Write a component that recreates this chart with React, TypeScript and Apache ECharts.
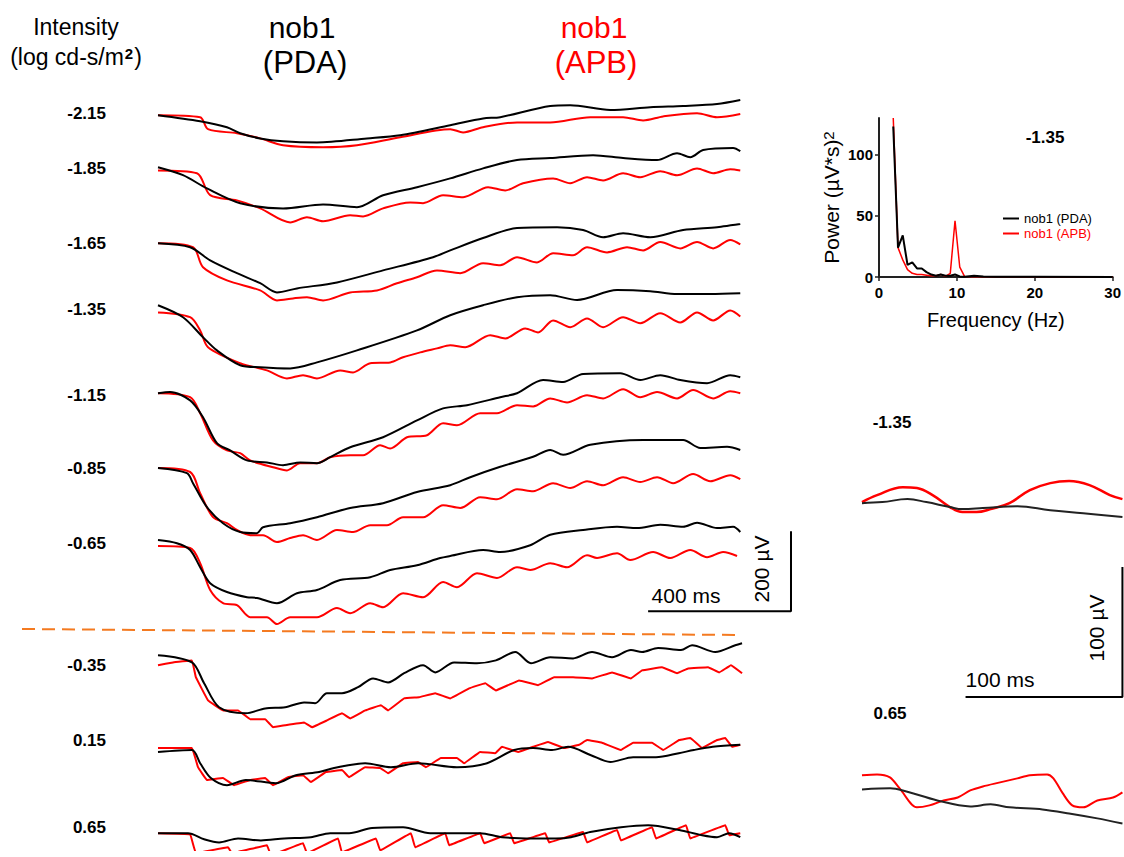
import React, { useEffect, useRef } from "react";
import * as echarts from "echarts";

// ---------- data ----------
const intensities = ["-2.15", "-1.85", "-1.65", "-1.35", "-1.15", "-0.85", "-0.65", "-0.35", "0.15", "0.65"];

// [time ms, amplitude µV relative to the row baseline]
const pdaTraces: number[][][] = [
  [[0,0],[118,-15],[193,-30],[230,-45],[286,-58],[350,-65],[445,-68],[585,-58],[678,-50],[818,-25],[910,-8],[958,-5],[1098,23],[1154,25],[1266,13],[1378,20],[1470,23],[1565,28],[1630,38]],
  [[0,0],[70,-20],[137,-53],[230,-90],[350,-103],[462,-93],[557,-100],[630,-70],[725,-50],[818,-28],[910,-3],[1005,18],[1098,23],[1218,30],[1302,23],[1397,18],[1453,35],[1490,25],[1526,43],[1610,48],[1630,40]],
  [[0,0],[90,-10],[146,-43],[221,-75],[286,-100],[333,-123],[389,-113],[501,-98],[630,-68],[770,-35],[818,-18],[910,13],[1005,38],[1117,40],[1190,33],[1246,15],[1302,25],[1378,15],[1470,33],[1565,40],[1630,48]],
  [[0,0],[70,-30],[126,-80],[165,-113],[230,-150],[286,-155],[370,-158],[445,-143],[557,-113],[725,-63],[818,-25],[910,0],[1005,20],[1098,25],[1173,13],[1285,38],[1378,35],[1453,28],[1546,28],[1630,30]],
  [[0,0],[34,3],[90,-18],[126,-60],[165,-125],[202,-143],[249,-168],[305,-173],[350,-180],[398,-173],[445,-175],[482,-160],[538,-135],[630,-110],[725,-68],[798,-38],[865,-30],[958,-10],[1005,0],[1078,33],[1134,28],[1190,48],[1294,50],[1350,33],[1406,45],[1462,33],[1537,25],[1602,45],[1630,40]],
  [[0,0],[81,-13],[98,-38],[137,-98],[182,-138],[230,-160],[277,-163],[294,-148],[370,-138],[445,-123],[538,-100],[630,-88],[725,-60],[818,-43],[874,-23],[958,3],[1050,28],[1098,45],[1134,33],[1210,58],[1358,70],[1470,70],[1518,50],[1593,53],[1630,45]],
  [[0,0],[53,-8],[90,-25],[118,-68],[146,-108],[193,-130],[249,-143],[277,-145],[333,-158],[389,-133],[445,-125],[510,-100],[594,-93],[650,-75],[725,-63],[790,-45],[818,-40],[910,-25],[958,-30],[1042,-13],[1098,13],[1190,25],[1285,33],[1341,30],[1406,38],[1470,33],[1509,43],[1565,30],[1610,33],[1630,20]],
  [[0,0],[95,-18],[129,-70],[171,-130],[246,-145],[300,-133],[356,-130],[409,-118],[440,-120],[473,-95],[515,-95],[560,-80],[602,-58],[644,-68],[689,-45],[742,-25],[776,-43],[829,-18],[893,-20],[946,-13],[1000,8],[1044,-20],[1098,-5],[1162,-8],[1215,8],[1271,-5],[1324,13],[1355,8],[1400,18],[1464,13],[1495,25],[1560,8],[1616,25],[1635,30]],
  [[0,-5],[95,0],[118,-33],[148,-70],[193,-88],[246,-75],[330,-83],[386,-63],[451,-55],[493,-45],[580,-33],[652,-43],[728,-33],[837,-43],[921,-33],[997,0],[1050,5],[1103,0],[1148,8],[1212,-13],[1266,-30],[1330,-18],[1394,-18],[1458,-8],[1500,0],[1553,8],[1630,13]],
  [[0,0],[84,0],[129,-15],[171,-23],[224,-13],[288,-18],[353,-13],[428,-10],[482,0],[535,0],[599,13],[686,15],[762,0],[837,0],[902,0],[963,-10],[1050,-13],[1114,-13],[1156,-10],[1210,3],[1296,15],[1372,20],[1459,8],[1523,-5],[1565,-10],[1599,0],[1630,-10]],
];

const apbTraces: number[][][] = [
  [[0,0],[118,-5],[140,-35],[221,-45],[286,-58],[350,-75],[462,-80],[557,-75],[678,-55],[818,-35],[854,-43],[910,-30],[1005,-18],[1098,-18],[1210,-5],[1302,-5],[1358,-13],[1414,-3],[1509,5],[1565,-5],[1630,3]],
  [[0,-8],[109,-15],[146,-70],[221,-83],[286,-103],[370,-138],[417,-125],[462,-135],[538,-120],[574,-123],[630,-103],[706,-88],[742,-90],[798,-70],[854,-75],[924,-50],[972,-58],[1022,-40],[1106,-28],[1154,-40],[1201,-25],[1246,-33],[1302,-15],[1350,-25],[1406,-10],[1453,-20],[1509,-3],[1554,-15],[1602,-5],[1630,-8]],
  [[0,0],[98,-10],[126,-60],[193,-93],[286,-118],[333,-143],[378,-138],[417,-135],[462,-143],[538,-123],[613,-118],[669,-100],[725,-85],[781,-68],[846,-75],[910,-50],[958,-55],[1005,-35],[1061,-48],[1106,-25],[1162,-30],[1201,-10],[1257,-23],[1313,-10],[1358,-18],[1406,3],[1462,-13],[1509,3],[1554,-13],[1602,8],[1630,-3]],
  [[0,-18],[90,-30],[118,-63],[140,-105],[230,-145],[305,-163],[361,-183],[406,-175],[445,-183],[510,-163],[546,-168],[594,-145],[650,-143],[686,-130],[734,-118],[781,-108],[818,-100],[860,-105],[930,-75],[972,-83],[1028,-58],[1064,-68],[1106,-38],[1154,-55],[1201,-33],[1246,-55],[1302,-30],[1350,-45],[1406,-20],[1462,-43],[1509,-18],[1554,-38],[1602,-13],[1630,-28]],
  [[0,0],[90,-10],[118,-50],[154,-118],[193,-143],[230,-150],[258,-168],[322,-185],[361,-193],[398,-175],[445,-175],[482,-160],[538,-155],[574,-155],[622,-130],[650,-138],[697,-110],[753,-105],[798,-75],[837,-80],[902,-50],[949,-50],[1005,-30],[1050,-33],[1098,-13],[1145,-23],[1201,-5],[1246,-13],[1302,10],[1350,-10],[1397,3],[1453,-13],[1498,8],[1554,-13],[1602,5],[1630,0]],
  [[0,0],[90,-10],[118,-63],[154,-123],[193,-138],[221,-155],[258,-168],[294,-168],[333,-185],[370,-175],[406,-168],[445,-180],[501,-155],[546,-160],[594,-143],[641,-143],[686,-123],[742,-123],[798,-93],[846,-100],[902,-73],[949,-78],[1005,-53],[1050,-58],[1106,-38],[1154,-50],[1201,-33],[1246,-43],[1302,-23],[1350,-35],[1397,-23],[1442,-38],[1498,-15],[1546,-33],[1602,-18],[1630,-28]],
  [[0,-15],[90,-20],[118,-58],[146,-125],[182,-158],[221,-163],[258,-193],[305,-193],[333,-210],[370,-193],[406,-193],[445,-193],[501,-170],[538,-183],[594,-158],[630,-168],[686,-133],[742,-143],[798,-105],[837,-118],[893,-83],[949,-95],[1005,-68],[1042,-75],[1098,-58],[1145,-68],[1201,-38],[1229,-45],[1285,-33],[1322,-50],[1386,-30],[1434,-45],[1490,-25],[1537,-43],[1582,-30],[1621,-40]],
  [[0,-25],[42,-18],[95,-13],[106,-55],[140,-113],[182,-138],[224,-138],[258,-160],[300,-160],[322,-180],[356,-175],[409,-168],[431,-180],[473,-163],[515,-145],[538,-158],[580,-138],[624,-125],[644,-138],[689,-108],[731,-105],[776,-95],[818,-108],[871,-83],[916,-70],[946,-88],[1011,-63],[1064,-75],[1109,-55],[1162,-55],[1215,-58],[1271,-43],[1324,-58],[1355,-38],[1411,-30],[1453,-45],[1484,-33],[1540,-30],[1571,-43],[1604,-25],[1635,-45]],
  [[0,5],[95,5],[112,-43],[137,-75],[182,-70],[213,-88],[258,-75],[300,-70],[322,-88],[364,-68],[406,-63],[428,-80],[470,-55],[515,-50],[535,-68],[580,-43],[622,-45],[644,-58],[686,-33],[728,-30],[750,-43],[792,-20],[837,-20],[857,-33],[902,-5],[944,-8],[963,8],[1008,-5],[1050,8],[1092,20],[1137,5],[1179,13],[1201,25],[1243,18],[1296,0],[1330,18],[1383,18],[1414,0],[1459,25],[1490,30],[1523,5],[1565,25],[1588,30],[1607,8],[1630,13]],
  [[0,0],[90,-3],[106,-50],[196,-35],[207,-50],[305,-30],[316,-55],[406,-25],[417,-50],[504,-13],[515,-48],[610,-13],[622,-43],[708,0],[720,-35],[804,0],[815,-30],[902,0],[913,-25],[986,0],[997,-25],[1084,0],[1095,-23],[1190,3],[1201,-23],[1285,8],[1296,-18],[1383,15],[1394,-13],[1478,20],[1490,-13],[1588,20],[1599,-5],[1630,0]],
];

// power spectrum at -1.35: [frequency Hz, power (µV*s)^2]
const spectrumPDA = [[1.83,123],[2.44,24],[3.05,34],[3.66,10],[4.27,12],[4.88,7],[5.49,7],[6.1,4],[6.71,2],[7.32,1],[7.93,2],[8.54,1],[9.15,1],[9.76,2],[10.37,0.5],[10.98,0.3],[12.2,1],[13.4,0.5],[15,0.3],[20,0.2],[30,0.1]];
const spectrumAPB = [[1.83,130],[2.44,24],[3.05,14],[3.66,6],[4.27,3],[4.88,2],[5.49,2],[6.1,1.5],[6.71,1],[7.32,1],[7.93,2],[8.54,0.5],[9.15,3],[9.76,46],[10.37,8],[10.98,0.5],[12.2,0.2],[30,0]];

// expanded traces [ms, µV]
const zoomPDA_m135 = [[0,-0.8],[13,0],[29,2.3],[41,0],[56,-3.8],[64,-5.4],[77,-4.6],[99,-3.1],[120,-6.2],[141,-8.5],[166,-11.5]];
const zoomAPB_m135 = [[0,0],[9.6,5.4],[26,11.5],[35,10.8],[45,5.4],[56,-3.8],[64,-7.7],[73,-7.7],[82,-5.4],[94,-0.8],[107,9.2],[120,14.6],[132,16.2],[145,13.1],[158,5.4],[166,2.3]];
const zoomPDA_065 = [[0,0],[18,0.8],[26,-0.8],[48,-8.5],[69,-13.1],[82,-11.5],[94,-13.8],[115,-15.4],[132,-18.5],[150,-22.3],[166,-26.2]];
const zoomAPB_065 = [[0,10.8],[9.6,11.5],[17.8,9.2],[24,0.8],[35,-13.8],[43,-12.3],[52,-8.5],[61,-6.2],[69,-0.8],[77,2.3],[88,5.4],[99,8.5],[107,10.8],[118,11.5],[122,8.5],[128,-3.1],[134,-12.3],[141,-13.8],[150,-8.5],[160,-6.2],[166,-2.3]];

// ---------- layout ----------
const rowBaselineUV = [-63, -193, -383, -538, -758, -945, -1125, -1413, -1650, -1858];
const rowLabelY = [113, 168, 243, 309, 395, 468, 543, 665, 740, 827];
const FONT = "'Liberation Sans', Arial, Helvetica, sans-serif";
const RED = "#ff0000";
const BLACK = "#000000";

function buildOption(): any {
  const series: any[] = [];
  intensities.forEach((lab, i) => {
    const off = rowBaselineUV[i];
    series.push({
      type: "line", name: "APB " + lab, xAxisIndex: 0, yAxisIndex: 0,
      data: apbTraces[i].map(([t, v]) => [t, v + off]),
      symbol: "none", smooth: i < 7 ? 0.3 : 0.05, silent: true, z: 2,
      lineStyle: { color: RED, width: 2 },
    });
    series.push({
      type: "line", name: "PDA " + lab, xAxisIndex: 0, yAxisIndex: 0,
      data: pdaTraces[i].map(([t, v]) => [t, v + off]),
      symbol: "none", smooth: 0.3, silent: true, z: 3,
      lineStyle: { color: BLACK, width: 2 },
    });
  });
  // main scale bar: 400 ms x 200 µV
  series.push({
    type: "line", name: "scale", xAxisIndex: 0, yAxisIndex: 0, symbol: "none", silent: true,
    data: [[1372, -1303], [1772, -1303], [1772, -1103]],
    lineStyle: { color: BLACK, width: 2 },
  });
  // power spectrum
  series.push({
    type: "line", name: "nob1 (PDA)", xAxisIndex: 1, yAxisIndex: 1, symbol: "none", silent: true, z: 3,
    data: spectrumPDA, lineStyle: { color: BLACK, width: 2 }, itemStyle: { color: BLACK },
  });
  series.push({
    type: "line", name: "nob1 (APB)", xAxisIndex: 1, yAxisIndex: 1, symbol: "none", silent: true, z: 2,
    data: spectrumAPB, lineStyle: { color: RED, width: 1.5 }, itemStyle: { color: RED },
  });
  // expanded -1.35
  series.push({ type: "line", name: "zAPB135", xAxisIndex: 2, yAxisIndex: 2, symbol: "none", smooth: 0.4, silent: true, data: zoomAPB_m135, lineStyle: { color: RED, width: 2.5 } });
  series.push({ type: "line", name: "zPDA135", xAxisIndex: 2, yAxisIndex: 2, symbol: "none", smooth: 0.4, silent: true, data: zoomPDA_m135, lineStyle: { color: "#222", width: 2 } });
  series.push({
    type: "line", name: "scale2", xAxisIndex: 2, yAxisIndex: 2, symbol: "none", silent: true,
    data: [[66, -150], [166, -150], [166, -50]], lineStyle: { color: BLACK, width: 2 },
  });
  // expanded 0.65
  series.push({ type: "line", name: "zAPB065", xAxisIndex: 3, yAxisIndex: 3, symbol: "none", smooth: 0.3, silent: true, data: zoomAPB_065, lineStyle: { color: RED, width: 2 } });
  series.push({ type: "line", name: "zPDA065", xAxisIndex: 3, yAxisIndex: 3, symbol: "none", smooth: 0.3, silent: true, data: zoomPDA_065, lineStyle: { color: "#222", width: 2 } });

  const hiddenX = (min: number, max: number, gi: number) => ({ type: "value", gridIndex: gi, min, max, show: false });
  const txt = (text: string, x: number, y: number, size: number, opts: any = {}) => ({
    type: "text", x, y, rotation: opts.rotation || 0, silent: true,
    style: {
      text, fill: opts.color || BLACK, fontSize: size, fontWeight: opts.bold ? "bold" : "normal", fontFamily: FONT,
      align: opts.align || "center", verticalAlign: "middle", textAlign: opts.align || "center", textVerticalAlign: "middle",
      rich: opts.rich,
    },
  });

  const graphics: any[] = [
    txt("Intensity", 76, 27, 23),
    txt("{a|(log cd-s/m}{s|2}{a|)}", 76, 57, 23, {
      rich: {
        a: { fontSize: 23, fontFamily: FONT, fill: BLACK, color: BLACK },
        s: { fontSize: 15, fontWeight: "bold", fontFamily: FONT, fill: BLACK, color: BLACK, verticalAlign: "top", padding: [0, 1, 0, 1] },
      },
    }),
    txt("nob1", 302, 27, 30),
    txt("(PDA)", 305, 62, 31),
    txt("nob1", 594, 27, 30, { color: RED }),
    txt("(APB)", 596, 62, 31, { color: RED }),
    txt("400 ms", 686, 595, 21),
    txt("200 µV", 761, 569, 21, { rotation: Math.PI / 2 }),
    txt("-1.35", 1045, 137, 17, { bold: true }),
    txt("-1.35", 892, 422, 17, { bold: true }),
    txt("100 ms", 1000, 679, 21),
    txt("100 µV", 1096, 628, 21, { rotation: Math.PI / 2 }),
    txt("0.65", 890, 713, 17, { bold: true }),
    {
      type: "line", silent: true,
      shape: { x1: 22, y1: 629, x2: 738, y2: 635 },
      style: { stroke: "#f47a20", lineWidth: 2, lineDash: [13, 7] },
    },
  ];
  intensities.forEach((lab, i) => graphics.push(txt(lab, 106, rowLabelY[i], 17, { bold: true, align: "right" })));

  return {
    animation: false,
    backgroundColor: "#ffffff",
    grid: [
      { left: 158, top: 90, width: 643, height: 760 },
      { left: 879, top: 118, width: 239, height: 159 },
      { left: 862, top: 467, width: 262, height: 234 },
      { left: 862, top: 740, width: 262, height: 117 },
    ],
    xAxis: [
      hiddenX(0, 1800, 0),
      {
        type: "value", gridIndex: 1, min: 0, max: 30, interval: 10,
        axisLine: { show: true, lineStyle: { color: "#222", width: 2 } },
        axisTick: { show: true, length: 4, lineStyle: { color: "#222", width: 1.5 } },
        axisLabel: { color: "#000", fontSize: 15, fontWeight: "bold", fontFamily: FONT, margin: 8 },
        splitLine: { show: false },
        name: "Frequency (Hz)", nameLocation: "middle", nameGap: 33,
        nameTextStyle: { color: "#000", fontSize: 20, fontFamily: FONT },
      },
      hiddenX(0, 167, 2),
      hiddenX(0, 167, 3),
    ],
    yAxis: [
      { type: "value", gridIndex: 0, min: -1900, max: 0, show: false },
      {
        type: "value", gridIndex: 1, min: 0, max: 130, interval: 50,
        axisLine: { show: true, lineStyle: { color: "#222", width: 2 } },
        axisTick: { show: true, length: 4, lineStyle: { color: "#222", width: 1.5 } },
        axisLabel: { color: "#000", fontSize: 15, fontWeight: "bold", fontFamily: FONT, margin: 6, showMaxLabel: false },
        splitLine: { show: false },
        name: "{a|Power (µV*s)}{s|2}", nameLocation: "middle", nameGap: 37, nameRotate: 90,
        nameTextStyle: {
          color: "#000", fontSize: 21, fontFamily: FONT,
          rich: {
            a: { fontSize: 21, fontFamily: FONT, color: "#000" },
            s: { fontSize: 15, fontFamily: FONT, color: "#000", verticalAlign: "top" },
          },
        },
      },
      { type: "value", gridIndex: 2, min: -153, max: 27, show: false },
      { type: "value", gridIndex: 3, min: -52, max: 38, show: false },
    ],
    legend: {
      show: true, orient: "vertical", left: 998, top: 207, itemGap: 2,
      itemWidth: 16, itemHeight: 2, icon: "rect",
      textStyle: { fontSize: 13, fontFamily: FONT },
      data: [
        { name: "nob1 (PDA)", textStyle: { color: BLACK } },
        { name: "nob1 (APB)", textStyle: { color: RED } },
      ],
      selectedMode: false,
    },
    graphic: graphics,
    series,
  };
}

export default function App() {
  const ref = useRef<HTMLDivElement>(null);
  useEffect(() => {
    document.body.style.margin = "0";
    const chart = echarts.init(ref.current as HTMLDivElement, undefined, { renderer: "svg", width: 1124, height: 857 });
    chart.setOption(buildOption());
    return () => chart.dispose();
  }, []);
  return <div ref={ref} style={{ width: 1124, height: 857 }} />;
}
